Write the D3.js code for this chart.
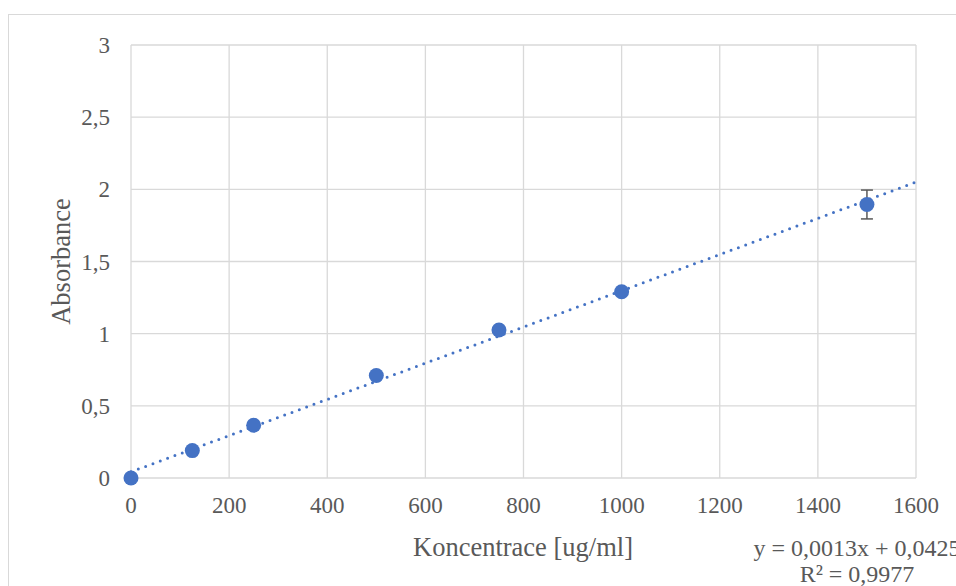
<!DOCTYPE html>
<html>
<head>
<meta charset="utf-8">
<script src="https://cdn.jsdelivr.net/npm/d3@7"></script>
<style>
  body { margin: 0; background: #fff; }
  svg text.t { font-family: "Liberation Serif"; fill: #595959; }
</style>
</head>
<body>
<div id="chart"></div>
<script>
// koncentrace [ug/ml] a namerena absorbance
const koncentrace = [0, 125, 250, 500, 750, 1000, 1500];
const absorbance = [0, 0.19, 0.365, 0.71, 1.025, 1.29, 1.895];
const chyba = [0, 0, 0, 0, 0, 0, 0.1];
const xTicks = [0, 200, 400, 600, 800, 1000, 1200, 1400, 1600];
const yTicks = [0, 0.5, 1, 1.5, 2, 2.5, 3];
const rovnice = ["y = 0,0013x + 0,0425", "R² = 0,9977"];

const width = 956, height = 586;
const m = { left: 131, top: 45, right: 40, bottom: 108 };
const pismo = "Liberation Serif";

const svg = d3.select("#chart").append("svg")
  .attr("width", width)
  .attr("height", height);

// ramecek grafu
svg.append("rect")
  .attr("x", 8.5).attr("y", 14.5)
  .attr("width", width).attr("height", height)
  .attr("fill", "none")
  .attr("stroke", "#d9d9d9");

const x = d3.scaleLinear().domain([0, 1600]).range([m.left, width - m.right]);
const y = d3.scaleLinear().domain([0, 3]).range([height - m.bottom, m.top]);
const fmt = d => d3.format("")(d).replace(".", ",");

// mrizka
svg.append("g").selectAll("line")
  .data(xTicks).enter().append("line")
  .attr("x1", d => x(d)).attr("x2", d => x(d))
  .attr("y1", y(0)).attr("y2", y(3))
  .attr("stroke", "#d9d9d9").attr("stroke-width", 1.3);

svg.append("g").selectAll("line")
  .data(yTicks).enter().append("line")
  .attr("x1", x(0)).attr("x2", x(1600))
  .attr("y1", d => y(d)).attr("y2", d => y(d))
  .attr("stroke", "#d9d9d9").attr("stroke-width", 1.3);

// popisky os
svg.append("g").selectAll("text")
  .data(xTicks).enter().append("text")
  .attr("class", "t")
  .style("font-family", pismo)
  .attr("x", d => x(d)).attr("y", y(0) + 35)
  .attr("text-anchor", "middle")
  .attr("font-size", 23)
  .text(fmt);

svg.append("g").selectAll("text")
  .data(yTicks).enter().append("text")
  .attr("class", "t")
  .style("font-family", pismo)
  .attr("x", x(0) - 21).attr("y", d => y(d) + 8)
  .attr("text-anchor", "end")
  .attr("font-size", 23)
  .text(fmt);

svg.append("text")
  .attr("class", "t")
  .style("font-family", pismo)
  .attr("x", 523).attr("y", 556)
  .attr("text-anchor", "middle")
  .attr("font-size", 26.5)
  .text("Koncentrace [ug/ml]");

svg.append("text")
  .attr("class", "t")
  .style("font-family", pismo)
  .attr("transform", `translate(70,${(y(0) + y(3)) / 2}) rotate(-90)`)
  .attr("text-anchor", "middle")
  .attr("font-size", 26.5)
  .text("Absorbance");

// linearni trend (nejmensi ctverce)
const mx = d3.mean(koncentrace), my = d3.mean(absorbance);
const sxy = d3.sum(koncentrace, (v, i) => (v - mx) * (absorbance[i] - my));
const sxx = d3.sum(koncentrace, v => (v - mx) * (v - mx));
const k = sxy / sxx, q = my - k * mx;

svg.append("line")
  .attr("x1", x(0)).attr("y1", y(q))
  .attr("x2", x(1600)).attr("y2", y(q + k * 1600))
  .attr("stroke", "#4472c4")
  .attr("stroke-width", 3)
  .attr("stroke-linecap", "round")
  .attr("stroke-dasharray", "0,7.8");

// chybove usecky
const eb = svg.append("g").attr("stroke", "#595959").attr("stroke-width", 1.5);
koncentrace.forEach((v, i) => {
  if (!chyba[i]) return;
  const lo = y(absorbance[i] - chyba[i]), hi = y(absorbance[i] + chyba[i]);
  eb.append("line").attr("x1", x(v)).attr("x2", x(v)).attr("y1", lo).attr("y2", hi);
  eb.append("line").attr("x1", x(v) - 6).attr("x2", x(v) + 6).attr("y1", lo).attr("y2", lo);
  eb.append("line").attr("x1", x(v) - 6).attr("x2", x(v) + 6).attr("y1", hi).attr("y2", hi);
});

// body
svg.append("g").selectAll("circle")
  .data(koncentrace).enter().append("circle")
  .attr("cx", d => x(d))
  .attr("cy", (d, i) => y(absorbance[i]))
  .attr("r", 7.5)
  .attr("fill", "#4472c4");

// rovnice trendu
svg.append("g").selectAll("text")
  .data(rovnice).enter().append("text")
  .attr("class", "t")
  .style("font-family", pismo)
  .attr("x", 857).attr("y", (d, i) => 556 + i * 26)
  .attr("text-anchor", "middle")
  .attr("font-size", 24)
  .text(d => d);
</script>
</body>
</html>
